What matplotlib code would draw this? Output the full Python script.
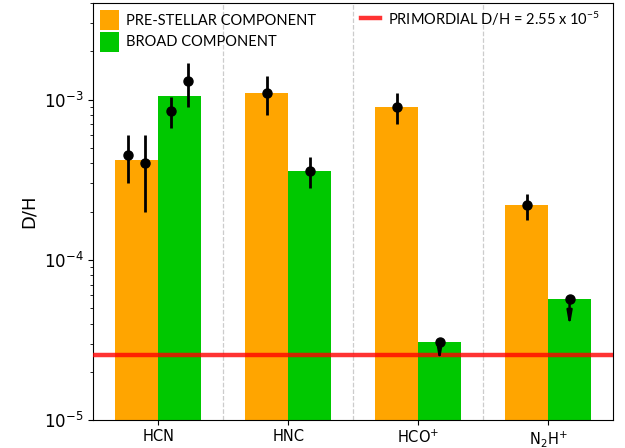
import numpy as np
import matplotlib
matplotlib.use('Agg')
import matplotlib.pyplot as plt

# molecules and bar heights (D/H) for the two velocity components
molecules = ['HCN', 'HNC', r'HCO$^{+}$', r'N$_2$H$^{+}$']
prestellar = [4.2e-4, 1.1e-3, 9.0e-4, 2.2e-4]
broad = [1.06e-3, 3.6e-4, 3.07e-5, 5.7e-5]
primordial = 2.55e-5

# individual measurements: molecule index, offset within the group, value, lower, upper
meas_idx = [0, 0, 0, 0, 1, 1, 2, 3]
meas_off = [-0.23, -0.10, 0.10, 0.23, -0.165, 0.165, -0.165, -0.165]
meas_val = [4.5e-4, 4.0e-4, 8.5e-4, 1.3e-3, 1.1e-3, 3.6e-4, 9.0e-4, 2.2e-4]
meas_lo = [3.0e-4, 2.0e-4, 6.7e-4, 9.0e-4, 8.0e-4, 2.8e-4, 7.0e-4, 1.78e-4]
meas_hi = [6.0e-4, 6.0e-4, 1.04e-3, 1.7e-3, 1.4e-3, 4.4e-4, 1.1e-3, 2.57e-4]

# upper limits (broad component of HCO+ and N2H+)
lim_idx = [2, 3]
lim_off = [0.165, 0.165]
lim_val = [3.07e-5, 5.7e-5]
lim_end = [2.3e-5, 3.8e-5]

orange = '#ffa500'
green = '#00c800'
width = 0.33

fig = plt.figure(figsize=(6.25, 4.48), dpi=100)
ax = fig.add_axes([0.149, 0.062, 0.832, 0.931])

x = np.arange(len(molecules))
b1 = ax.bar(x, prestellar, width=-width, align='edge', color=orange,
            label='PRE-STELLAR COMPONENT', zorder=2)
b2 = ax.bar(x, broad, width=width, align='edge', color=green,
            label='BROAD COMPONENT', zorder=2)
ln = ax.axhline(primordial, color='red', lw=3.2, alpha=0.8, zorder=3,
                label=r'PRIMORDIAL D/H = 2.55 x 10$\mathregular{^{-5}}$')

for sep in x[:-1] + 0.5:
    ax.axvline(sep, color='#cccccc', lw=0.9, ls='--', zorder=0)

mx = np.array(meas_idx) + np.array(meas_off)
mv = np.array(meas_val)
yerr = [mv - np.array(meas_lo), np.array(meas_hi) - mv]
ax.errorbar(mx, mv, yerr=yerr, fmt='o', color='black', ms=6.5, elinewidth=2,
            capsize=0, zorder=4)

# upper limits drawn as a dot with a downward arrow
lx = np.array(lim_idx) + np.array(lim_off)
ax.plot(lx, lim_val, 'o', color='black', ms=6.5, zorder=5)
for xi, v, e in zip(lx, lim_val, lim_end):
    ax.annotate('', xy=(xi, e), xytext=(xi, v), zorder=4,
                arrowprops=dict(arrowstyle='-|>,head_width=0.14,head_length=0.8',
                                color='black', lw=1.8, shrinkA=0, shrinkB=0))

ax.set_yscale('log')
ax.set_ylim(1e-5, 4e-3)
ax.set_xlim(-0.5, 3.5)
ax.set_xticks(x)
ax.set_xticklabels(molecules, fontsize=10.5)
ax.tick_params(axis='x', pad=2.5)
ax.tick_params(axis='y', labelsize=12)
ax.set_ylabel('D/H', fontsize=13)

leg = ax.legend([b1, b2, ln], [b1.get_label(), b2.get_label(), ln.get_label()],
                loc='upper left', ncol=2, frameon=False,
                handlelength=1.3, handleheight=1.7, handletextpad=0.5,
                columnspacing=3.1, labelspacing=0.12, borderaxespad=0.25,
                borderpad=0.2, prop={'family': 'Lato', 'size': 10.5})

fig.savefig('out.png', dpi=100)
